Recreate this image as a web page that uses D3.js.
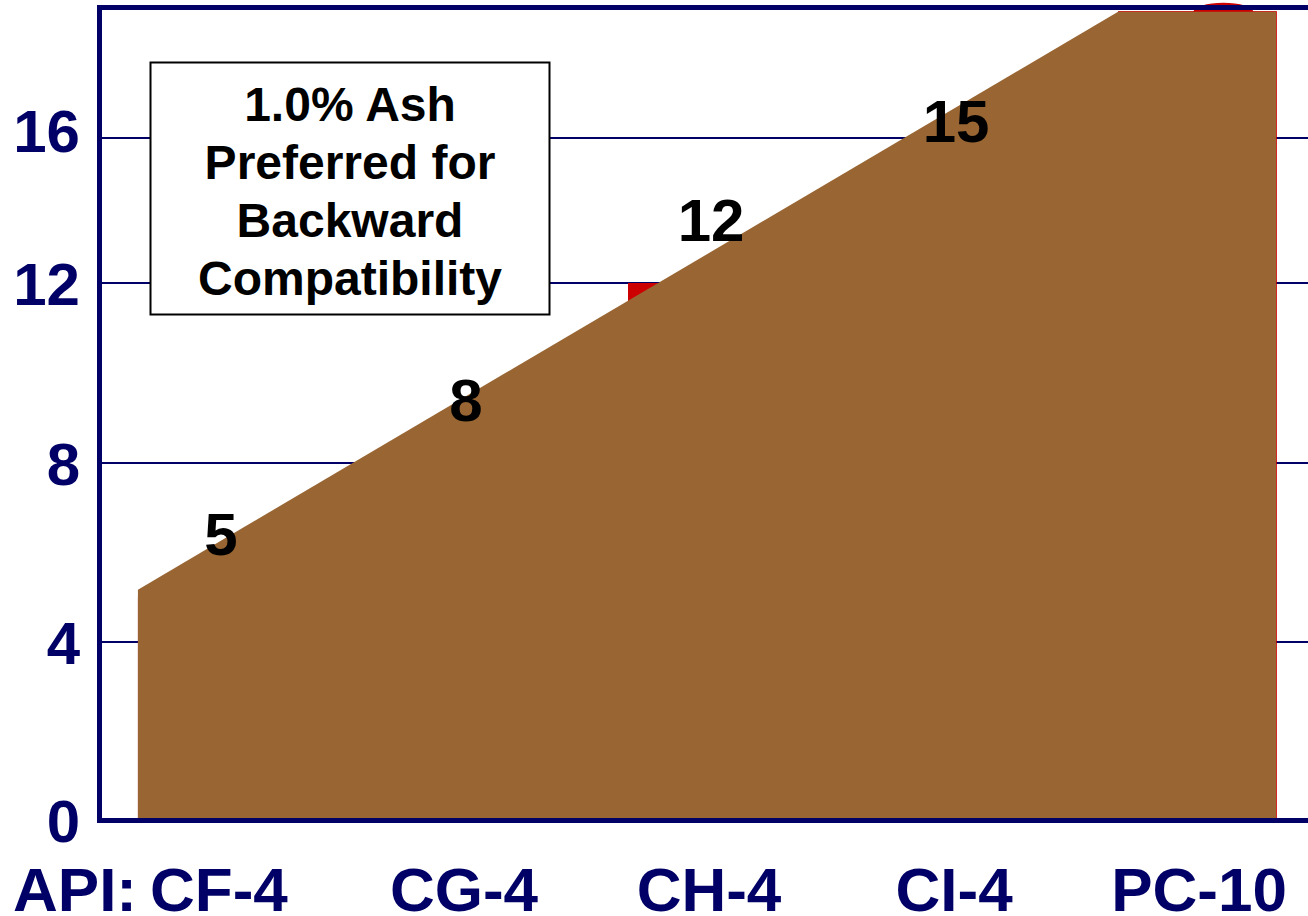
<!DOCTYPE html>
<html>
<head>
<meta charset="utf-8">
<script src="https://cdn.jsdelivr.net/npm/d3@7"></script>
<style>
  html, body { margin: 0; padding: 0; background: #ffffff; overflow: hidden; }
  svg { display: block; }
</style>
</head>
<body>
<svg id="chart"></svg>
<script>
// ---- data ----
const categories = ["CF-4", "CG-4", "CH-4", "CI-4", "PC-10"];
const barValues = [5, 8, 12, 15, 19.5];
const valueLabels = ["5", "8", "12", "15", ""];
const yTicks = [0, 4, 8, 12, 16];
const axisPrefix = "API:";
// brown band: rises from the first bar's left edge to the last bar's left edge, then levels off
const areaCats = ["CF-4", "PC-10", "PC-10"];
const areaEdges = [0, 0, 0.975];      // fraction across the band
const areaValues = [5.17, 19.48, 19.48];
const noteLines = ["1.0% Ash", "Preferred for", "Backward", "Compatibility"];

// ---- layout ----
const W = 1308, H = 916;
const navy = "#000066", brown = "#996633", red = "#cc0000";
const font = "'Liberation Sans', Arial, Helvetica, sans-serif";
const plotLeft = 97, plotRight = 1321;
const frameTopValue = 19.6;

const svg = d3.select("#chart").attr("width", W).attr("height", H);

const x = d3.scaleBand()
  .domain(categories)
  .range([plotLeft, plotRight])
  .paddingInner(0.339)
  .paddingOuter(0.167);

// piecewise value axis (upper interval is drawn compressed)
const y = d3.scaleLinear()
  .domain(yTicks)
  .range([820, 642, 463, 283, 138]);

// gridlines
svg.append("g")
  .selectAll("line")
  .data(yTicks.filter(t => t > 0))
  .join("line")
  .attr("x1", plotLeft + 5).attr("x2", plotRight)
  .attr("y1", d => y(d)).attr("y2", d => y(d))
  .attr("stroke", navy).attr("stroke-width", 2.2);

// red bars behind the band
svg.append("g")
  .selectAll("rect")
  .data(categories.map((c, i) => ({ c, v: barValues[i] })))
  .join("rect")
  .attr("x", d => x(d.c))
  .attr("y", d => y(d.v))
  .attr("width", d => d.c === "PC-10" ? x.bandwidth() * 0.98 : x.bandwidth())
  .attr("height", d => y(0) - y(d.v))
  .attr("fill", red);

// red cap peeking above the last bar
svg.append("ellipse")
  .attr("cx", x("PC-10") + x.bandwidth() * 0.65)
  .attr("cy", y(areaValues[2]))
  .attr("rx", 30).attr("ry", 9)
  .attr("fill", red);

// brown area
const areaData = areaCats.map((c, i) => ({ c, e: areaEdges[i], v: areaValues[i] }));
const area = d3.area()
  .x(d => x(d.c) + d.e * x.bandwidth())
  .y0(y(0))
  .y1(d => y(d.v));
svg.append("path")
  .datum(areaData)
  .attr("d", area)
  .attr("fill", brown);

// frame: left axis, baseline and top border
const frame = svg.append("g").attr("stroke", navy).attr("stroke-width", 5);
frame.append("line")
  .attr("x1", plotLeft + 2.5).attr("x2", plotLeft + 2.5)
  .attr("y1", y(frameTopValue) - 2.5).attr("y2", y(0) + 3);
frame.append("line")
  .attr("x1", plotLeft).attr("x2", plotRight)
  .attr("y1", y(0) + 0.5).attr("y2", y(0) + 0.5);
frame.append("line")
  .attr("x1", plotLeft).attr("x2", plotRight)
  .attr("y1", y(frameTopValue)).attr("y2", y(frameTopValue));

// y axis labels
const yAxis = svg.append("g")
  .attr("transform", "translate(80,0)")
  .call(d3.axisLeft(y).tickValues(yTicks).tickSize(0).tickPadding(0).tickFormat(d3.format("d")));
yAxis.select(".domain").remove();
yAxis.selectAll("text")
  .attr("x", 0)
  .attr("dy", d => d === 16 ? "0.22em" : "0.36em")
  .attr("fill", navy)
  .style("font-family", font)
  .style("font-weight", "bold")
  .style("font-size", "60px");

// x axis labels
const xAxis = svg.append("g")
  .attr("transform", "translate(0,911)")
  .call(d3.axisBottom(x).tickSize(0).tickPadding(0));
xAxis.select(".domain").remove();
xAxis.selectAll("text")
  .attr("y", 0)
  .attr("dy", "0")
  .attr("fill", navy)
  .style("font-family", font)
  .style("font-weight", "bold")
  .style("font-size", "62px");

svg.append("text")
  .attr("x", 137).attr("y", 911)
  .attr("text-anchor", "end")
  .attr("fill", navy)
  .style("font-family", font)
  .style("font-weight", "bold")
  .style("font-size", "62px")
  .text(axisPrefix);

// value labels
svg.append("g")
  .selectAll("text")
  .data(categories.map((c, i) => ({ c, v: barValues[i], t: valueLabels[i] })).filter(d => d.t))
  .join("text")
  .attr("x", d => x(d.c) + x.bandwidth() / 2 + 2)
  .attr("y", d => y(d.v) - (d.v > 12 ? 32 : 42))
  .attr("text-anchor", "middle")
  .attr("fill", "#000000")
  .style("font-family", font)
  .style("font-weight", "bold")
  .style("font-size", "60px")
  .text(d => d.t);

// note box
const note = svg.append("g");
note.append("rect")
  .attr("x", 150.5).attr("y", 62.5)
  .attr("width", 399).attr("height", 252)
  .attr("fill", "#ffffff")
  .attr("stroke", "#000000")
  .attr("stroke-width", 2);
note.selectAll("text")
  .data(noteLines)
  .join("text")
  .attr("x", 350)
  .attr("y", (d, i) => 121 + i * 58)
  .attr("text-anchor", "middle")
  .attr("fill", "#000000")
  .style("font-family", font)
  .style("font-weight", "bold")
  .style("font-size", "48px")
  .text(d => d);
</script>
</body>
</html>
